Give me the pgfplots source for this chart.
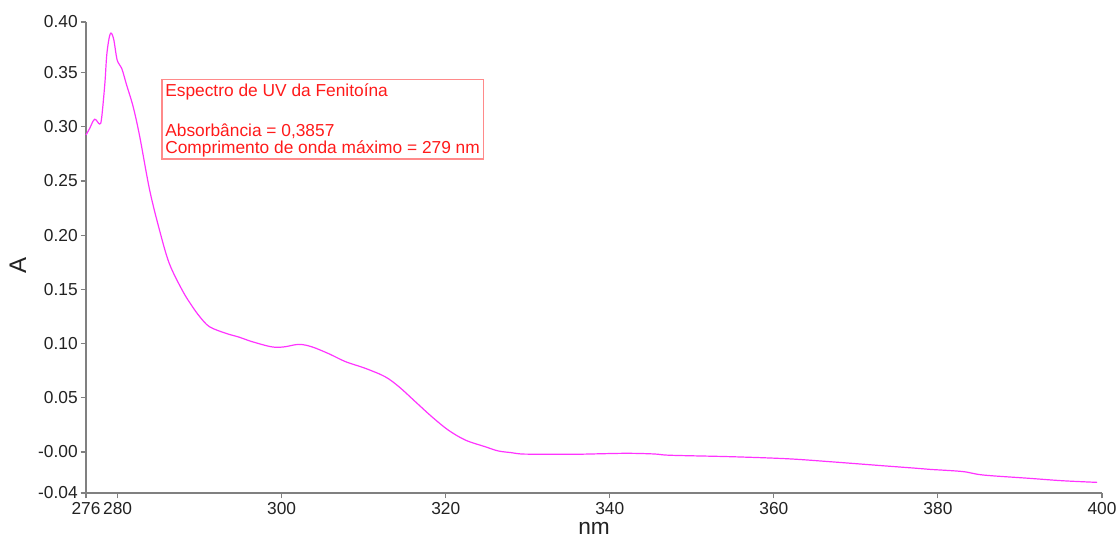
\documentclass[border=0pt]{standalone}
\usepackage{pgfplots}
\pgfplotsset{compat=1.18}
\usepackage{fontspec}
\setmainfont{Liberation Sans}
\usetikzlibrary{calc}
\definecolor{curve}{HTML}{FF33FF}
\definecolor{boxline}{HTML}{FF8A8A}
\definecolor{boxtext}{HTML}{FF1A1A}
\definecolor{axgray}{HTML}{808080}
\definecolor{lbl}{HTML}{222222}
\begin{document}
\begin{tikzpicture}
\begin{axis}[
  at={(0,0)}, anchor=south west,
  scale only axis,
  width=762pt, height=353.25pt,
  xmin=276.15, xmax=400,
  ymin=-0.0378, ymax=0.3967,
  axis lines=left,
  axis line style={axgray, line width=0.9pt, -},
  tick align=outside,
  major tick length=4pt,
  tick style={axgray, line width=0.8pt},
  xtick={276.15,280,300,320,340,360,380,400},
  xticklabels={276,280,300,320,340,360,380,400},
  ytick={-0.0378,0,0.05,0.10,0.15,0.20,0.25,0.30,0.35,0.3967},
  yticklabels={-0.04,-0.00,0.05,0.10,0.15,0.20,0.25,0.30,0.35,0.40},
  ticklabel style={font=\fontsize{13}{15}\selectfont, text=lbl, inner sep=2pt},
  xticklabel style={yshift=-1pt},
  xlabel={nm},
  ylabel={A},
  xlabel style={font=\fontsize{17}{19}\selectfont, text=lbl, inner sep=0pt, at={(axis description cs:0.5,-0.0755)}, anchor=center},
  ylabel style={font=\fontsize{18}{20}\selectfont, text=lbl, at={(axis description cs:-0.067,0.484)}, anchor=center},
  clip=false,
]
\addplot[curve, line width=0.9pt, smooth, tension=0.55] coordinates {
(276.15,0.2924) (276.6,0.2986) (277.2,0.3070) (277.8,0.3026) (278.05,0.3078)
(278.45,0.3400) (278.7,0.3678) (279.1,0.3857) (279.5,0.3816) (279.95,0.3616)
(280.5,0.3540) (281.1,0.3386) (281.9,0.3185) (282.7,0.2910) (283.9,0.2420)
(285.1,0.2050) (286.3,0.1740) (287.9,0.1490) (289.0,0.1355) (290.0,0.1250) (291.2,0.1156)
(293.2,0.1095) (294.8,0.1060) (296.4,0.1018) (298.8,0.0970) (300.3,0.0970)
(302.1,0.0993) (303.7,0.0970) (305.8,0.0905) (307.8,0.0833) (310.2,0.0772)
(312.6,0.0695) (314.3,0.0602) (316.3,0.0464) (318.3,0.0326) (320.3,0.0203)
(322.4,0.0110) (324.8,0.0049) (326.4,0.0010) (328.0,-0.0006) (329.2,-0.0018)
(331.2,-0.0020) (335.7,-0.0021) (341.8,-0.0012) (345.4,-0.0018) (347.4,-0.0030)
(354.7,-0.0043) (361.6,-0.0062) (366.8,-0.0089) (373.7,-0.0129) (377.4,-0.0150)
(379.0,-0.0160) (383.0,-0.0180) (385.5,-0.0212) (391.2,-0.0243) (395.2,-0.0265)
(399.4,-0.0280)
};
\draw[boxline, line width=0.8pt] (axis description cs:0.0748,0.877) rectangle (axis description cs:0.3917,0.7091);
\path (axis description cs:0.0778,0.8414) node[anchor=base west, inner sep=0pt, text=boxtext, font=\fontsize{13}{15}\selectfont] {Espectro de UV da Fenitoína};
\path (axis description cs:0.0778,0.7565) node[anchor=base west, inner sep=0pt, text=boxtext, font=\fontsize{13}{15}\selectfont] {Absorbância = 0,3857};
\path (axis description cs:0.0778,0.7212) node[anchor=base west, inner sep=0pt, text=boxtext, font=\fontsize{13}{15}\selectfont] {Comprimento de onda máximo = 279 nm};
\coordinate (bl) at (rel axis cs:0,0);
\end{axis}
\pgfresetboundingbox
\path ($(bl)+(-64.5pt,-33.75pt)$) rectangle ($(bl)+(775.5pt,369.75pt)$);
\end{tikzpicture}
\end{document}
